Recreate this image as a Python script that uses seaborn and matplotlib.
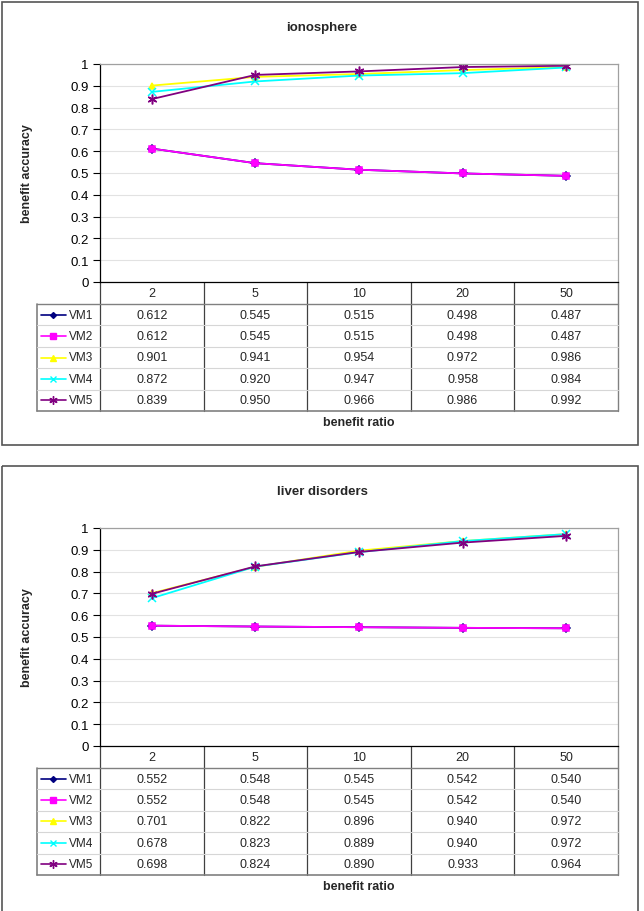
import numpy as np
import pandas as pd
import matplotlib
matplotlib.use("Agg")
import matplotlib.pyplot as plt
import seaborn as sns

# data
ratios = ["2", "5", "10", "20", "50"]
methods = ["VM1", "VM2", "VM3", "VM4", "VM5"]

iono_vm1 = [0.612, 0.545, 0.515, 0.498, 0.487]
iono_vm2 = [0.612, 0.545, 0.515, 0.498, 0.487]
iono_vm3 = [0.901, 0.941, 0.954, 0.972, 0.986]
iono_vm4 = [0.872, 0.920, 0.947, 0.958, 0.984]
iono_vm5 = [0.839, 0.950, 0.966, 0.986, 0.992]

liver_vm1 = [0.552, 0.548, 0.545, 0.542, 0.540]
liver_vm2 = [0.552, 0.548, 0.545, 0.542, 0.540]
liver_vm3 = [0.701, 0.822, 0.896, 0.940, 0.972]
liver_vm4 = [0.678, 0.823, 0.889, 0.940, 0.972]
liver_vm5 = [0.698, 0.824, 0.890, 0.933, 0.964]

panels = [
    ("ionosphere", [iono_vm1, iono_vm2, iono_vm3, iono_vm4, iono_vm5]),
    ("liver disorders", [liver_vm1, liver_vm2, liver_vm3, liver_vm4, liver_vm5]),
]

# styles
colors = ["#000080", "#FF00FF", "#FFFF00", "#00FFFF", "#800080"]
markers = ["D", "s", "^", "x", (6, 2, 0)]
msizes = [4, 5, 5, 6, 7]

sns.set_style("white")
plt.rcParams["font.family"] = ["Liberation Sans", "DejaVu Sans"]

W, H = 644, 912
fig = plt.figure(figsize=(W / 100, H / 100), dpi=100)

# overlay axes in pixel coords for frame + data table
bg = fig.add_axes([0, 0, 1, 1])
bg.set_xlim(0, W)
bg.set_ylim(H, 0)
bg.axis("off")

plot_l, plot_r = 100, 618
col_w = (plot_r - plot_l) / len(ratios)
tab_l = 37
row_h = 21.4


def draw_panel(y0, title, values, frame_h):
    # frame (last one runs off the bottom of the page)
    bg.add_patch(plt.Rectangle((2, y0 + 3), 636, frame_h, fill=False,
                               edgecolor="#555555", lw=1.2, zorder=0))
    bg.text(322, y0 + 28, title, ha="center", va="center",
            fontsize=9.5, fontweight="bold")
    bg.text(27, y0 + 174, "benefit accuracy", rotation=90, ha="center",
            va="center", fontsize=9, fontweight="bold")
    bg.text(359, y0 + 423, "benefit ratio", ha="center", va="center",
            fontsize=9, fontweight="bold")

    top, bottom = y0 + 65, y0 + 283
    ax = fig.add_axes([plot_l / W, 1 - bottom / H,
                       (plot_r - plot_l) / W, (bottom - top) / H])
    pos = np.arange(len(ratios))
    for name, vals, c, m, ms in zip(methods, values, colors, markers, msizes):
        df = pd.DataFrame({"pos": pos, "acc": vals})
        sns.lineplot(data=df, x="pos", y="acc", ax=ax, color=c, marker=m,
                     markersize=ms, markeredgecolor=c, markerfacecolor=c,
                     markeredgewidth=1.1, linewidth=1.3)
    ax.set_xlim(-0.5, len(ratios) - 0.5)
    ax.set_ylim(0, 1)
    ax.set_yticks(np.arange(0, 1.01, 0.1))
    ax.yaxis.set_major_formatter(matplotlib.ticker.FuncFormatter(lambda v, p: "%g" % round(v, 1)))
    ax.set_xticks([])
    ax.set_xlabel("")
    ax.set_ylabel("")
    ax.grid(axis="y", color="#E2E2E2", lw=0.8)
    ax.tick_params(axis="y", direction="out", length=5, width=0.8,
                   labelsize=9.5, pad=3, left=True, colors="#000000")
    for s in ["top", "right"]:
        ax.spines[s].set_color("#A0A0A0")
        ax.spines[s].set_linewidth(0.9)
    for s in ["left", "bottom"]:
        ax.spines[s].set_color("#000000")
        ax.spines[s].set_linewidth(0.9)
    ax.set_facecolor("white")

    # data table
    hdr_b = bottom + 22
    tab_b = hdr_b + row_h * len(methods)
    for k in range(1, len(ratios)):
        x = plot_l + k * col_w
        bg.plot([x, x], [bottom, tab_b], color="#404040", lw=0.9)
    bg.plot([plot_r, plot_r], [bottom, tab_b], color="#808080", lw=1.0)
    bg.plot([plot_l, plot_l], [bottom, tab_b], color="#404040", lw=0.9)
    bg.plot([tab_l, tab_l], [hdr_b, tab_b], color="#808080", lw=1.2)
    bg.plot([tab_l, plot_r], [hdr_b, hdr_b], color="#808080", lw=1.0)
    bg.plot([tab_l, plot_r], [tab_b, tab_b], color="#808080", lw=1.2)
    for i in range(1, len(methods)):
        y = hdr_b + i * row_h
        bg.plot([tab_l, plot_r], [y, y], color="#D6D6D6", lw=0.8)

    for k, r in enumerate(ratios):
        bg.text(plot_l + (k + 0.5) * col_w, (bottom + hdr_b) / 2, r,
                ha="center", va="center", fontsize=9)
    for i, (name, vals, c, m, ms) in enumerate(zip(methods, values, colors, markers, msizes)):
        yc = hdr_b + (i + 0.5) * row_h
        bg.plot([41, 53.5, 66], [yc, yc, yc], color=c, lw=1.2, marker=m,
                markevery=[1], markersize=ms - 1, markeredgecolor=c,
                markerfacecolor=c, markeredgewidth=1.0)
        bg.text(69, yc, name, ha="left", va="center", fontsize=8.5)
        for k, v in enumerate(vals):
            bg.text(plot_l + (k + 0.5) * col_w, yc, "%.3f" % v,
                    ha="center", va="center", fontsize=9)


for j, (title, values) in enumerate(panels):
    draw_panel(j * 464, title, values, 443 if j == 0 else 470)

fig.savefig("out.png", dpi=100)
